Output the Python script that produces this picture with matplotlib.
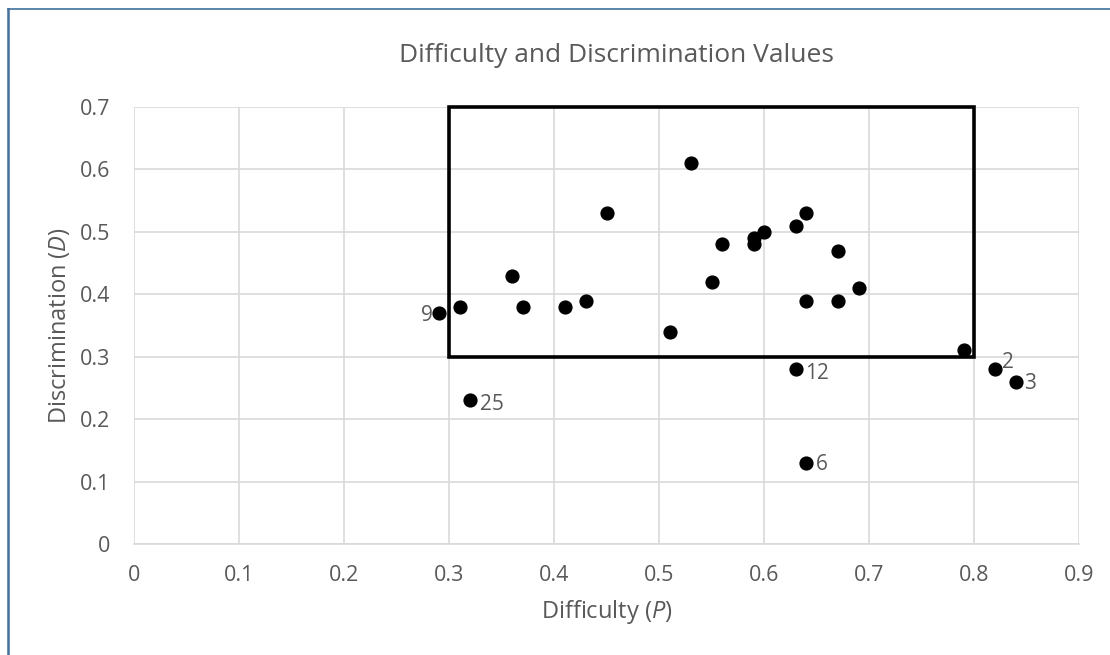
import matplotlib.pyplot as plt
from matplotlib.lines import Line2D
from matplotlib.patches import Rectangle

# Item difficulty (P) and discrimination (D)
difficulty = [0.29, 0.31, 0.36, 0.37, 0.41, 0.43, 0.45, 0.51, 0.53, 0.55,
              0.56, 0.59, 0.59, 0.60, 0.63, 0.64, 0.67, 0.69, 0.64, 0.67,
              0.79, 0.63, 0.82, 0.84, 0.32, 0.64]
discrimination = [0.37, 0.38, 0.43, 0.38, 0.38, 0.39, 0.53, 0.34, 0.61, 0.42,
                  0.48, 0.49, 0.48, 0.50, 0.51, 0.53, 0.47, 0.41, 0.39, 0.39,
                  0.31, 0.28, 0.28, 0.26, 0.23, 0.13]
# labelled outlier items
label_items = ["9", "12", "2", "3", "25", "6"]
label_p = [0.29, 0.63, 0.82, 0.84, 0.32, 0.64]
label_d = [0.37, 0.28, 0.28, 0.26, 0.23, 0.13]
label_offsets = [(-4, -2), (7, -3), (5, 5), (6, -1), (7, -3), (7, -1)]
label_align = ["right", "left", "left", "left", "left", "left"]

# acceptable region
box_p = (0.3, 0.8)
box_d = (0.3, 0.7)

x_ticks = [0, 0.1, 0.2, 0.3, 0.4, 0.5, 0.6, 0.7, 0.8, 0.9]
y_ticks = [0, 0.1, 0.2, 0.3, 0.4, 0.5, 0.6, 0.7]

plt.rcParams["font.family"] = ["Open Sans", "DejaVu Sans"]
plt.rcParams["mathtext.fontset"] = "custom"
plt.rcParams["mathtext.it"] = "Open Sans:italic"
plt.rcParams["mathtext.rm"] = "Open Sans"
text_col = "#595959"
grid_col = "#d9d9d9"

fig = plt.figure(figsize=(11.1, 6.55), dpi=100)
ax = fig.add_axes([134 / 1110, 1 - 544 / 655, 945 / 1110, 437 / 655])

ax.scatter(difficulty, discrimination, s=85, color="black", zorder=3,
           clip_on=False)

for lbl, p, d, off, ha in zip(label_items, label_p, label_d, label_offsets,
                              label_align):
    ax.annotate(lbl, (p, d), xytext=off, textcoords="offset points",
                fontsize=15, color=text_col, ha=ha, va="center")

ax.add_patch(Rectangle((box_p[0], box_d[0]), box_p[1] - box_p[0],
                       box_d[1] - box_d[0], fill=False, edgecolor="black",
                       linewidth=2.6, zorder=4, clip_on=False))

ax.set_xlim(0, 0.9)
ax.set_ylim(0, 0.7)
ax.set_xticks(x_ticks)
ax.set_yticks(y_ticks)
ax.set_xticklabels([f"{v:g}" for v in x_ticks])
ax.set_yticklabels([f"{v:g}" for v in y_ticks])
ax.tick_params(length=0, labelsize=15.5, colors=text_col)
ax.tick_params(axis="x", pad=15)
ax.tick_params(axis="y", pad=17)
ax.grid(True, color=grid_col, linewidth=1.2)
ax.set_axisbelow(True)
for side in ["top", "right", "left"]:
    ax.spines[side].set_visible(False)
ax.spines["bottom"].set_color(grid_col)
ax.spines["bottom"].set_linewidth(1.2)

ax.set_xlabel(r"Difficulty ($\mathit{P}$)", fontsize=17, color=text_col,
              labelpad=9)
ax.set_ylabel(r"Discrimination ($\mathit{D}$)", fontsize=17, color=text_col,
              labelpad=6)

fig.text(616 / 1110, 1 - 56 / 655, "Difficulty and Discrimination Values",
         ha="center", va="center", fontsize=19, color=text_col)

# chart frame (partly cropped in the original)
frame_col = "#41719c"
fig.add_artist(Line2D([7.5 / 1110, 7.5 / 1110], [0, 1 - 9 / 655],
                      transform=fig.transFigure, color=frame_col, linewidth=1.8))
fig.add_artist(Line2D([7.5 / 1110, 1], [1 - 9 / 655, 1 - 9 / 655],
                      transform=fig.transFigure, color=frame_col, linewidth=1.2))

fig.savefig("out.png", dpi=100)
